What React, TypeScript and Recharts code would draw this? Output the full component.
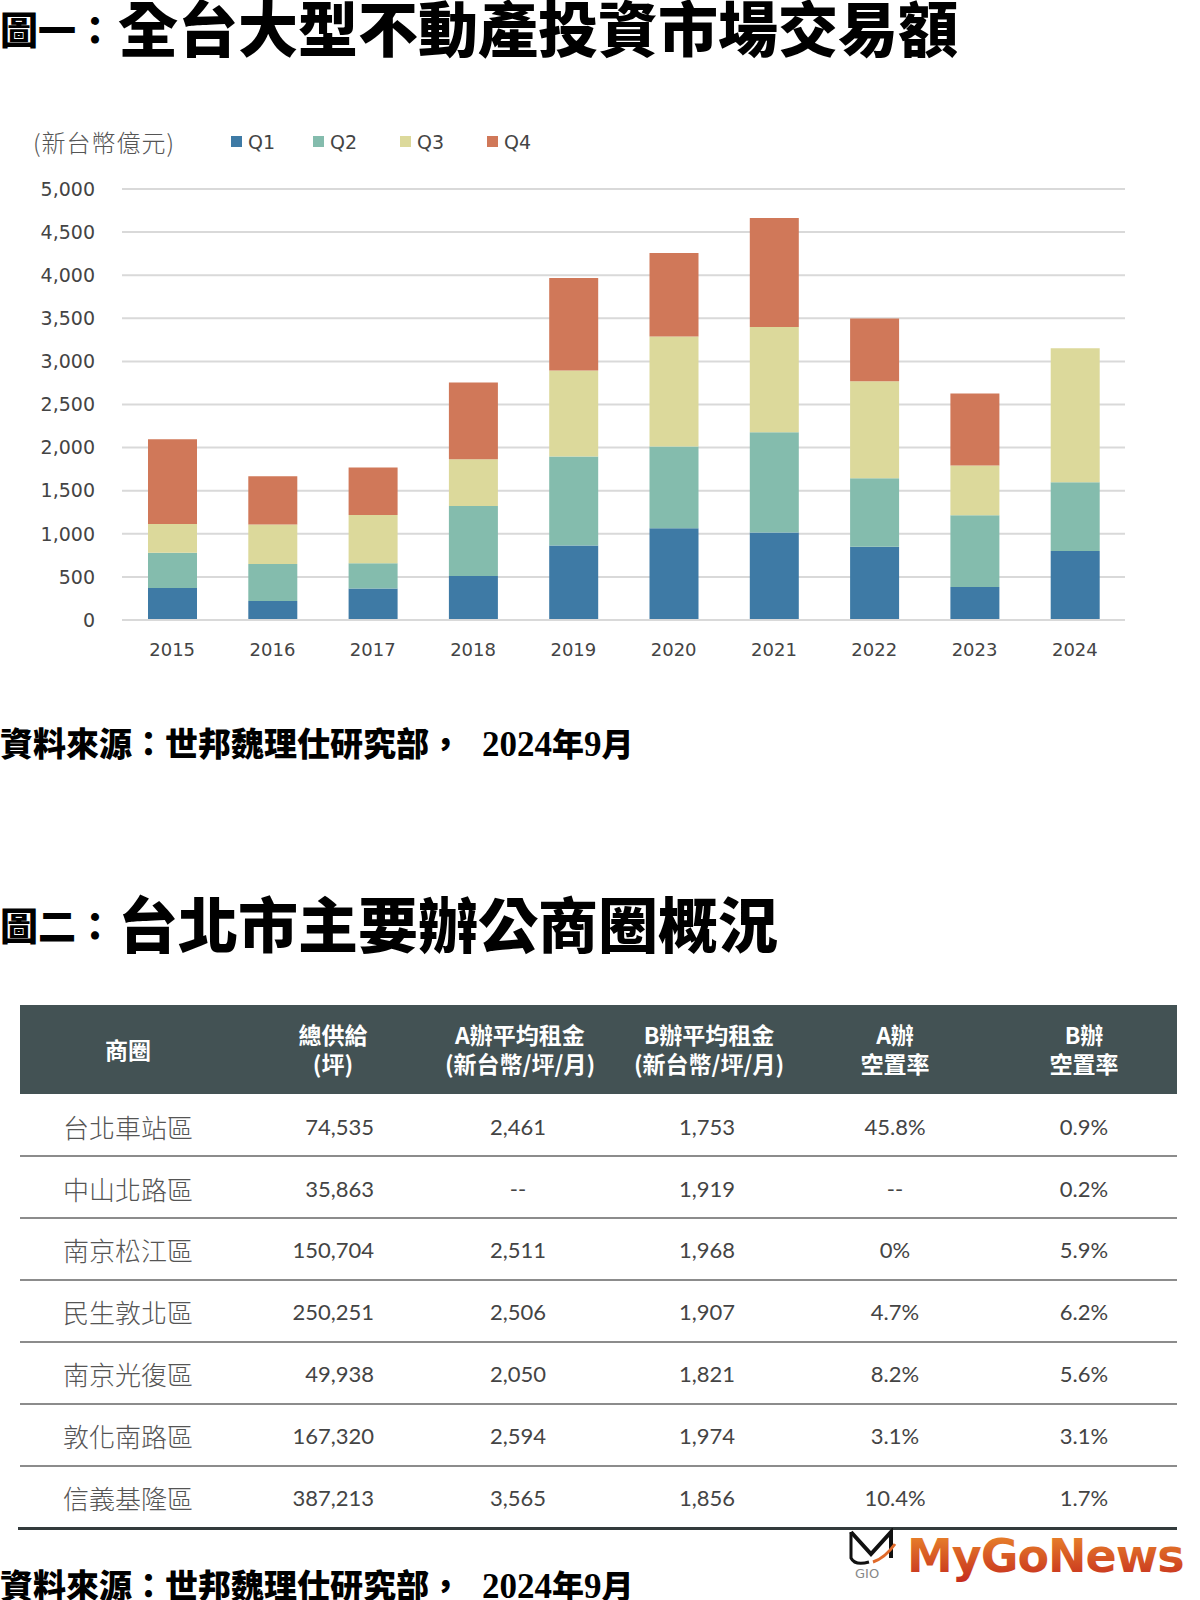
import React from "react";
import { BarChart, Bar, XAxis, YAxis, CartesianGrid } from "recharts";

const YEARS = ["2015", "2016", "2017", "2018", "2019", "2020", "2021", "2022", "2023", "2024"];
const Q1 = [371, 220, 364, 511, 863, 1064, 1014, 851, 383, 801];
const Q2 = [410, 430, 294, 812, 1033, 948, 1165, 794, 832, 797];
const Q3 = [333, 457, 561, 542, 998, 1277, 1219, 1126, 576, 1556];
const Q4 = [984, 561, 549, 890, 1073, 968, 1265, 727, 836, 0];
const Y_TICKS = [0, 500, 1000, 1500, 2000, 2500, 3000, 3500, 4000, 4500, 5000];

const SERIES = [
  { key: "Q1", color: "#3e7aa5" },
  { key: "Q2", color: "#84bcad" },
  { key: "Q3", color: "#dcd99b" },
  { key: "Q4", color: "#d07859" },
];

// table
const HEADERS = [
  ["商圈"],
  ["總供給", "(坪)"],
  ["A辦平均租金", "(新台幣/坪/月)"],
  ["B辦平均租金", "(新台幣/坪/月)"],
  ["A辦", "空置率"],
  ["B辦", "空置率"],
];
const DISTRICTS = ["台北車站區", "中山北路區", "南京松江區", "民生敦北區", "南京光復區", "敦化南路區", "信義基隆區"];
const SUPPLY = ["74,535", "35,863", "150,704", "250,251", "49,938", "167,320", "387,213"];
const A_RENT = ["2,461", "--", "2,511", "2,506", "2,050", "2,594", "3,565"];
const B_RENT = ["1,753", "1,919", "1,968", "1,907", "1,821", "1,974", "1,856"];
const A_VAC = ["45.8%", "--", "0%", "4.7%", "8.2%", "3.1%", "10.4%"];
const B_VAC = ["0.9%", "0.2%", "5.9%", "6.2%", "5.6%", "3.1%", "1.7%"];

const data = YEARS.map((y, i) => ({ year: y, Q1: Q1[i], Q2: Q2[i], Q3: Q3[i], Q4: Q4[i] }));

const CJK = '"Noto Sans CJK TC", "Noto Sans CJK SC", sans-serif';
const NUM = '"DejaVu Sans", sans-serif';

const headCenters = [128, 333, 520, 709, 895, 1084];
const colCenters = [0, 0, 518, 707, 895, 1084];
const ROW_Y = [1127, 1189, 1250, 1312, 1374, 1436, 1498];
const LINE_Y = [1156, 1218, 1280, 1342, 1404, 1466];

function Title({ top, small, big }: { top: number; small: string; big: string }) {
  return (
    <div style={{ position: "absolute", left: 0, top, height: 60, display: "flex", alignItems: "center", whiteSpace: "nowrap", fontFamily: CJK, color: "#000" }}>
      <span style={{ fontSize: 38, lineHeight: "38px", fontWeight: 900, display: "inline-block", width: 118, marginTop: 4 }}>{small}</span>
      <span style={{ fontSize: 60, lineHeight: "60px", fontWeight: 900 }}>{big}</span>
    </div>
  );
}

function Source({ top }: { top: number }) {
  return (
    <div style={{ position: "absolute", left: 0, top, whiteSpace: "nowrap", lineHeight: "34px", color: "#000" }}>
      <span style={{ fontFamily: CJK, fontWeight: 900, fontSize: 33 }}>資料來源：世邦魏理仕研究部，</span>
      <span style={{ display: "inline-block", width: 20 }} />
      <span style={{ fontFamily: '"Liberation Serif", serif', fontWeight: 700, fontSize: 35 }}>2024</span>
      <span style={{ fontFamily: CJK, fontWeight: 900, fontSize: 32 }}>年</span>
      <span style={{ fontFamily: '"Liberation Serif", serif', fontWeight: 700, fontSize: 35 }}>9</span>
      <span style={{ fontFamily: CJK, fontWeight: 900, fontSize: 32 }}>月</span>
    </div>
  );
}

export default function App() {
  return (
    <div style={{ position: "absolute", left: 0, top: 0, width: 1200, height: 1600, background: "#fff", overflow: "hidden" }}>
      <Title top={-4} small="圖一：" big="全台大型不動產投資市場交易額" />

      <BarChart
        width={1200}
        height={700}
        data={data}
        margin={{ top: 189, right: 75, left: 22, bottom: 50 }}
        style={{ position: "absolute", left: 0, top: 0 }}
      >
        <CartesianGrid vertical={false} stroke="#d9d9d9" strokeWidth={2} />
        <XAxis
          dataKey="year"
          height={30}
          tickLine={false}
          tickSize={0}
          tickMargin={23}
          axisLine={{ stroke: "#d9d9d9", strokeWidth: 2 }}
          tick={{ fill: "#444", fontSize: 18, fontFamily: NUM }}
        />
        <YAxis
          width={100}
          domain={[0, 5000]}
          ticks={Y_TICKS}
          axisLine={false}
          tickLine={false}
          tickSize={0}
          tickMargin={27}
          tickFormatter={(v: number) => v.toLocaleString("en-US")}
          tick={{ fill: "#444", fontSize: 19, fontFamily: NUM }}
        />
        {SERIES.map((s) => (
          <Bar key={s.key} dataKey={s.key} stackId="a" fill={s.color} barSize={49} isAnimationActive={false} />
        ))}
      </BarChart>

      {/* legend */}
      <div style={{ position: "absolute", left: 33, top: 128, height: 28, lineHeight: "28px", whiteSpace: "nowrap", color: "#555" }}>
        <span style={{ fontFamily: CJK, fontWeight: 300, fontSize: 24, letterSpacing: 1 }}>(新台幣億元)</span>
      </div>
      {SERIES.map((s, i) => (
        <div key={s.key} style={{ position: "absolute", left: [231, 313, 400, 487][i], top: 128, height: 28, lineHeight: "28px", whiteSpace: "nowrap", color: "#444", fontFamily: NUM, fontSize: 19 }}>
          <span style={{ display: "inline-block", width: 11, height: 11, background: s.color, marginRight: 6, verticalAlign: "middle", position: "relative", top: -2 }} />
          {s.key}
        </div>
      ))}

      <Source top={725} />

      <Title top={892} small="圖二：" big="台北市主要辦公商圈概況" />

      {/* table header */}
      <div style={{ position: "absolute", left: 20, top: 1005, width: 1157, height: 89, background: "#435254" }} />
      {HEADERS.map((h, i) => (
        <div
          key={i}
          style={{
            position: "absolute",
            left: headCenters[i],
            top: h.length === 1 ? 1035 : 1020,
            transform: "translateX(-50%)",
            color: "#fff",
            fontFamily: CJK,
            fontWeight: 700,
            fontSize: 23,
            lineHeight: "29px",
            textAlign: "center",
            whiteSpace: "nowrap",
          }}
        >
          {h.map((line, j) => (
            <div key={j}>{line}</div>
          ))}
        </div>
      ))}

      {/* table rows */}
      {LINE_Y.map((y, i) => (
        <div key={i} style={{ position: "absolute", left: 20, top: y - 1, width: 1157, height: 2, background: "#8c8c8c" }} />
      ))}
      <div style={{ position: "absolute", left: 18, top: 1527, width: 1159, height: 3, background: "#333b3c" }} />
      {DISTRICTS.map((d, i) => (
        <React.Fragment key={d}>
          <div style={{ position: "absolute", left: 63, top: ROW_Y[i] - 16, lineHeight: "32px", fontFamily: CJK, fontWeight: 300, fontSize: 26, color: "#555", whiteSpace: "nowrap" }}>{d}</div>
          <div style={{ position: "absolute", right: 1200 - 374, top: ROW_Y[i] - 16, lineHeight: "32px", fontFamily: '"Lato", sans-serif', fontWeight: 400, fontSize: 22, color: "#444", whiteSpace: "nowrap" }}>{SUPPLY[i]}</div>
          {[A_RENT, B_RENT, A_VAC, B_VAC].map((col, j) => (
            <div key={j} style={{ position: "absolute", left: colCenters[j + 2], top: ROW_Y[i] - 16, transform: "translateX(-50%)", lineHeight: "32px", fontFamily: '"Lato", sans-serif', fontWeight: 400, fontSize: 22, color: "#444", whiteSpace: "nowrap" }}>{col[i]}</div>
          ))}
        </React.Fragment>
      ))}

      {/* logo */}
      <svg width={350} height={60} style={{ position: "absolute", left: 845, top: 1528 }}>
        <defs>
          <linearGradient id="lg" x1="0" y1="0" x2="0" y2="1">
            <stop offset="0" stopColor="#ec8c2c" />
            <stop offset="1" stopColor="#c42a1e" />
          </linearGradient>
        </defs>
        <path d="M6 4 L26 26 L46 4 L46 30" fill="none" stroke="#111" strokeWidth={4} />
        <path d="M6 4 L6 30 Q10 38 24 34" fill="none" stroke="#111" strokeWidth={3} />
        <path d="M28 34 Q40 30 50 16" fill="none" stroke="#e06a2a" strokeWidth={3} />
        <text x={10} y={50} fontFamily="DejaVu Sans" fontSize={13} fill="#888">GIO</text>
        <text x={62} y={44} fontFamily="DejaVu Sans" fontWeight={700} fontSize={46} fill="url(#lg)" letterSpacing={-1}>MyGoNews</text>
      </svg>

      <Source top={1567} />
    </div>
  );
}
